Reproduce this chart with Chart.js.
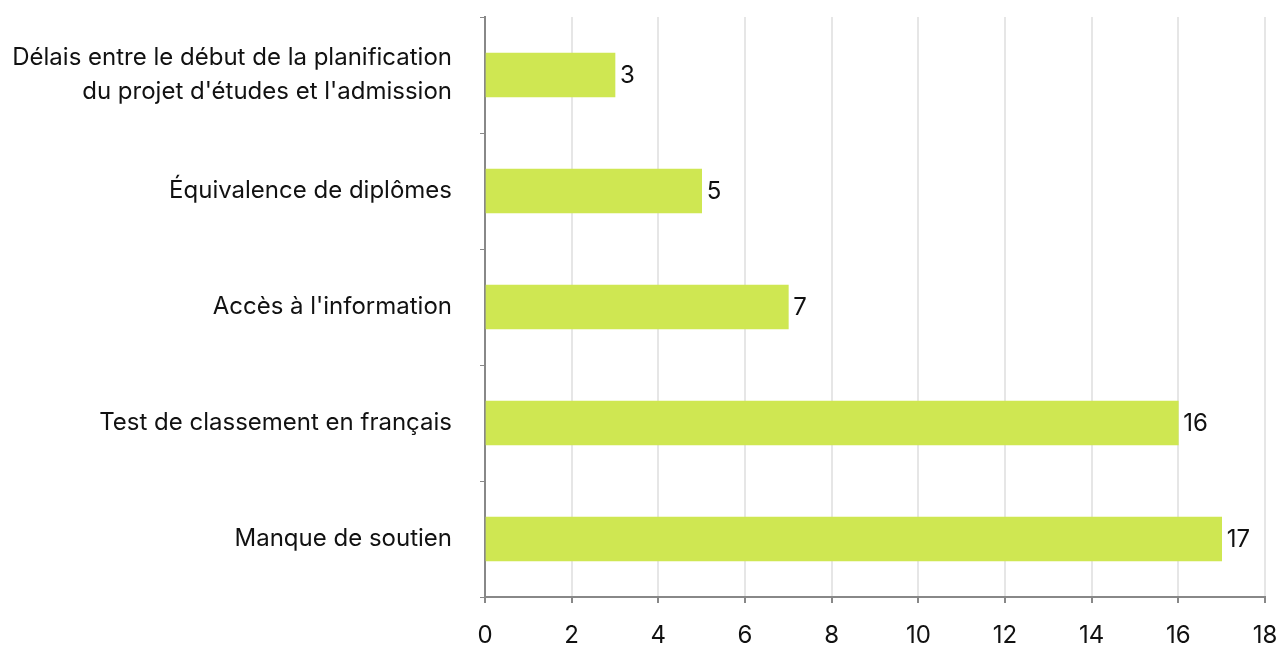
<!DOCTYPE html>
<html>
<head>
<meta charset="utf-8">
<script src="https://cdn.jsdelivr.net/npm/chart.js@4"></script>
<style>
  html, body { margin: 0; padding: 0; background: #fff; }
  #boite { width: 1281px; height: 650px; }
</style>
</head>
<body>
<div id="boite"><canvas id="graphique"></canvas></div>
<script>
// categories (de haut en bas)
const categories = [
  ["Délais entre le début de la planification", "du projet d'études et l'admission"],
  "Équivalence de diplômes",
  "Accès à l'information",
  "Test de classement en français",
  "Manque de soutien"
];
const valeurs = [3, 5, 7, 16, 17];
const xMin = 0;
const xMax = 18;
const xPas = 2;

const police = "Inter, 'DejaVu Sans', sans-serif";

// etiquettes au bout des barres
const etiquettes = {
  id: "etiquettes",
  afterDatasetsDraw(chart) {
    const ctx = chart.ctx;
    const meta = chart.getDatasetMeta(0);
    ctx.save();
    ctx.font = "24px " + police;
    ctx.fillStyle = "#111";
    ctx.textAlign = "left";
    ctx.textBaseline = "middle";
    meta.data.forEach((barre, i) => {
      ctx.fillText(String(valeurs[i]), barre.x + 5, barre.y + 1);
    });
    ctx.restore();
  }
};

const graphique = new Chart(document.getElementById("graphique"), {
  type: "bar",
  data: {
    labels: categories,
    datasets: [
      {
        data: valeurs,
        backgroundColor: "#cfe752",
        barThickness: 44,
      },
    ],
  },
  options: {
    indexAxis: "y",
    responsive: true,
    maintainAspectRatio: false,
    animation: false,
    layout: { padding: { top: 17, right: 16, left: 0, bottom: 0 } },
    plugins: {
      legend: { display: false },
      tooltip: { enabled: false },
    },
    scales: {
      x: {
        min: xMin,
        max: xMax,
        ticks: {
          stepSize: xPas,
          color: "#111",
          font: { family: police, size: 24 },
          padding: 18,
        },
        grid: {
          color: "#e6e6e6",
          lineWidth: 2,
          tickColor: "#888",
          tickLength: 6,
        },
        border: { color: "#888", width: 2 },
        afterFit(scale) {
          scale.height = 53;
          scale.paddingLeft = 0;
          scale.paddingRight = 0;
        },
      },
      y: {
        offset: true,
        ticks: {
          color: "#111",
          font: { family: police, size: 24, lineHeight: 1.42 },
          padding: 28,
        },
        grid: {
          offset: true,
          drawOnChartArea: false,
          tickColor: "#888",
          tickLength: 5,
        },
        border: { color: "#888", width: 2 },
        afterFit(scale) {
          scale.width = 485;
          scale.paddingTop = 0;
          scale.paddingBottom = 0;
        },
      },
    },
  },
  plugins: [etiquettes],
});
</script>
</body>
</html>
